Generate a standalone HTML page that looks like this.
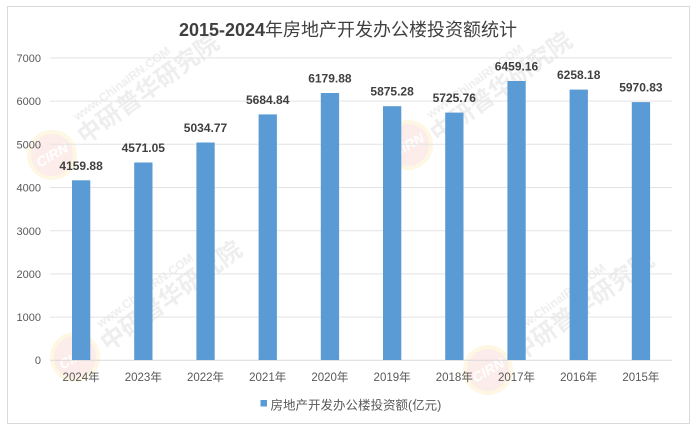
<!DOCTYPE html>
<html><head><meta charset="utf-8"><style>
html,body{margin:0;padding:0;background:#fff;}
svg{display:block;}
</style></head><body>
<svg width="697" height="433" viewBox="0 0 697 433" xmlns="http://www.w3.org/2000/svg">
<rect x="0" y="0" width="697" height="433" fill="#fff"/>
<rect x="7.5" y="6.5" width="682" height="417" fill="#fff" stroke="#d9d9d9" stroke-width="1"/>

<!-- watermarks -->
<g opacity="0.35">
  <g transform="translate(52,155)">
    <circle r="23" fill="#f6c9c4"/><circle r="23" fill="none" stroke="#fbe8b0" stroke-width="4"/>
    <text x="0" y="5" text-anchor="middle" transform="rotate(-30)" font-family="Liberation Sans, sans-serif" font-weight="bold" font-style="italic" font-size="14" fill="#fff">CIRN</text>
  </g>
  <g transform="translate(85,145) rotate(-36)" font-family="Liberation Sans, 'Noto Sans CJK SC', sans-serif" font-weight="bold" fill="#cfcfcf">
    <text x="0" y="0" font-size="24">中研普华研究院</text>
    <text x="8" y="-24" font-size="12">www.ChinaIRN.COM</text>
  </g>
  <g transform="translate(75,357)">
    <circle r="23" fill="#f6c9c4"/><circle r="23" fill="none" stroke="#fbe8b0" stroke-width="4"/>
    <text x="0" y="5" text-anchor="middle" transform="rotate(-30)" font-family="Liberation Sans, sans-serif" font-weight="bold" font-style="italic" font-size="14" fill="#fff">CIRN</text>
  </g>
  <g transform="translate(108,352) rotate(-36)" font-family="Liberation Sans, 'Noto Sans CJK SC', sans-serif" font-weight="bold" fill="#cfcfcf">
    <text x="0" y="0" font-size="24">中研普华研究院</text>
    <text x="8" y="-24" font-size="12">www.ChinaIRN.COM</text>
  </g>
  <g transform="translate(408,145)">
    <circle r="23" fill="#f6c9c4"/><circle r="23" fill="none" stroke="#fbe8b0" stroke-width="4"/>
    <text x="0" y="5" text-anchor="middle" transform="rotate(-30)" font-family="Liberation Sans, sans-serif" font-weight="bold" font-style="italic" font-size="14" fill="#fff">CIRN</text>
  </g>
  <g transform="translate(438,143) rotate(-36)" font-family="Liberation Sans, 'Noto Sans CJK SC', sans-serif" font-weight="bold" fill="#cfcfcf">
    <text x="0" y="0" font-size="24">中研普华研究院</text>
    <text x="8" y="-24" font-size="12">www.ChinaIRN.COM</text>
  </g>
  <g transform="translate(488,370)">
    <circle r="23" fill="#f6c9c4"/><circle r="23" fill="none" stroke="#fbe8b0" stroke-width="4"/>
    <text x="0" y="5" text-anchor="middle" transform="rotate(-30)" font-family="Liberation Sans, sans-serif" font-weight="bold" font-style="italic" font-size="14" fill="#fff">CIRN</text>
  </g>
  <g transform="translate(520,362) rotate(-36)" font-family="Liberation Sans, 'Noto Sans CJK SC', sans-serif" font-weight="bold" fill="#cfcfcf">
    <text x="0" y="0" font-size="24">中研普华研究院</text>
    <text x="8" y="-24" font-size="12">www.ChinaIRN.COM</text>
  </g>
</g>

<!-- title -->
<text x="348" y="36" text-anchor="middle" font-family="Liberation Sans, 'Noto Sans CJK SC', sans-serif" font-size="18" fill="#404040"><tspan font-weight="bold">2015-2024</tspan><tspan>年房地产开发办公楼投资额统计</tspan></text>

<!-- gridlines -->
<g stroke="#e3e3e3" stroke-width="1">
  <line x1="50" x2="672" y1="57.9" y2="57.9"/>
  <line x1="50" x2="672" y1="101.1" y2="101.1"/>
  <line x1="50" x2="672" y1="144.3" y2="144.3"/>
  <line x1="50" x2="672" y1="187.5" y2="187.5"/>
  <line x1="50" x2="672" y1="230.7" y2="230.7"/>
  <line x1="50" x2="672" y1="273.9" y2="273.9"/>
  <line x1="50" x2="672" y1="317.1" y2="317.1"/>
</g>
<line x1="50" x2="672" y1="360.3" y2="360.3" stroke="#d9d9d9" stroke-width="1"/>

<!-- y labels -->
<g font-family="Liberation Sans, sans-serif" font-size="11" fill="#595959" text-anchor="end">
  <text x="41" y="62">7000</text>
  <text x="41" y="105">6000</text>
  <text x="41" y="148.5">5000</text>
  <text x="41" y="191.5">4000</text>
  <text x="41" y="235">3000</text>
  <text x="41" y="278">2000</text>
  <text x="41" y="321">1000</text>
  <text x="41" y="364">0</text>
</g>

<!-- bars -->
<g fill="#5b9bd5">
  <rect x="72" y="180.3" width="18.3" height="179.7"/>
  <rect x="134.2" y="162.5" width="18.3" height="197.5"/>
  <rect x="196.4" y="142.5" width="18.3" height="217.5"/>
  <rect x="258.6" y="114.4" width="18.3" height="245.6"/>
  <rect x="320.8" y="93.0" width="18.3" height="267.0"/>
  <rect x="383.0" y="106.2" width="18.3" height="253.8"/>
  <rect x="445.2" y="112.6" width="18.3" height="247.4"/>
  <rect x="507.4" y="81.0" width="18.3" height="279.0"/>
  <rect x="569.6" y="89.6" width="18.3" height="270.4"/>
  <rect x="631.8" y="102.1" width="18.3" height="257.9"/>
</g>

<!-- data labels -->
<g font-family="Liberation Sans, sans-serif" font-size="12" font-weight="bold" fill="#404040" text-anchor="middle">
  <text x="81.1" y="169.8">4159.88</text>
  <text x="143.3" y="152">4571.05</text>
  <text x="205.5" y="132">5034.77</text>
  <text x="267.7" y="104">5684.84</text>
  <text x="329.9" y="82.5">6179.88</text>
  <text x="392.1" y="95.7">5875.28</text>
  <text x="454.3" y="102">5725.76</text>
  <text x="516.5" y="70.5">6459.16</text>
  <text x="578.7" y="79">6258.18</text>
  <text x="640.9" y="91.5">5970.83</text>
</g>

<!-- x labels -->
<g font-family="Liberation Sans, 'Noto Sans CJK SC', sans-serif" font-size="11.5" fill="#595959" text-anchor="middle">
  <text x="81.1" y="381">2024年</text>
  <text x="143.3" y="381">2023年</text>
  <text x="205.5" y="381">2022年</text>
  <text x="267.7" y="381">2021年</text>
  <text x="329.9" y="381">2020年</text>
  <text x="392.1" y="381">2019年</text>
  <text x="454.3" y="381">2018年</text>
  <text x="516.5" y="381">2017年</text>
  <text x="578.7" y="381">2016年</text>
  <text x="640.9" y="381">2015年</text>
</g>

<!-- legend -->
<rect x="260.5" y="400" width="6.5" height="6.5" fill="#5b9bd5"/>
<text x="270.5" y="409.5" font-family="Liberation Sans, 'Noto Sans CJK SC', sans-serif" font-size="12.5" fill="#595959">房地产开发办公楼投资额(亿元)</text>
</svg>
</body></html>
